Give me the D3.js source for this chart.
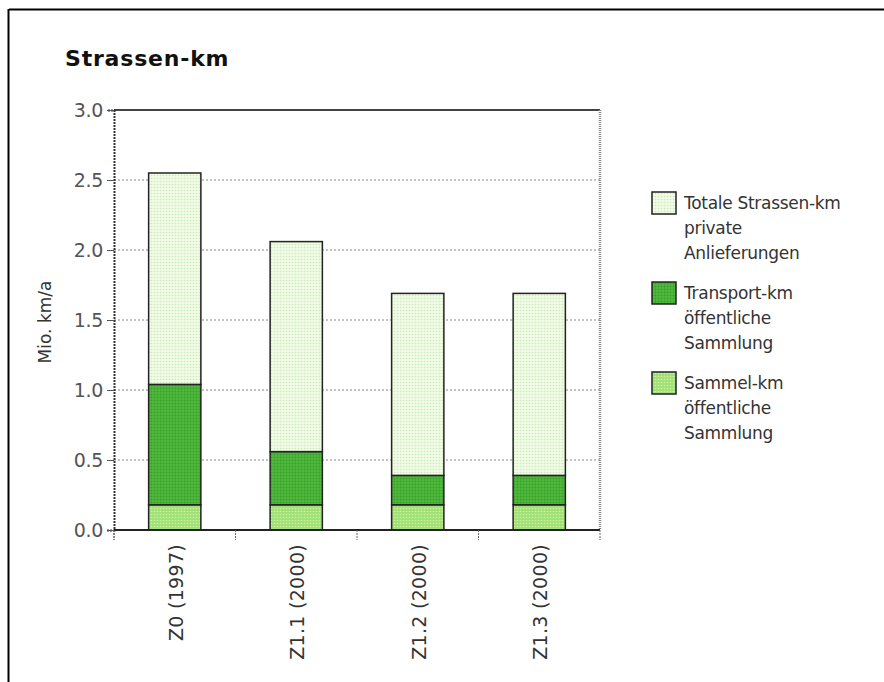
<!DOCTYPE html>
<html><head><meta charset="utf-8">
<script src="https://cdn.jsdelivr.net/npm/d3@7/dist/d3.min.js"></script>
<style>body{margin:0;background:#fff}svg{display:block}</style>
</head><body>
<svg id="c" width="884" height="682"></svg>
<script>
const categories = ["Z0 (1997)", "Z1.1 (2000)", "Z1.2 (2000)", "Z1.3 (2000)"];
const sammelKm = [0.18, 0.18, 0.18, 0.18];
const transportKm = [0.86, 0.38, 0.21, 0.21];
const privateKm = [1.51, 1.50, 1.30, 1.30];
const yTicks = [0, 0.5, 1.0, 1.5, 2.0, 2.5, 3.0];
const seriesNames = [
  ["Totale Strassen-km", "private", "Anlieferungen"],
  ["Transport-km", "öffentliche", "Sammlung"],
  ["Sammel-km", "öffentliche", "Sammlung"]
];

const svg = d3.select("#c");
const font = "'DejaVu Sans', Verdana, sans-serif";
const defs = svg.append("defs");

function pat(id, bg, dot, step, r) {
  const p = defs.append("pattern").attr("id", id).attr("patternUnits", "userSpaceOnUse")
    .attr("width", step).attr("height", step);
  p.append("rect").attr("width", step).attr("height", step).attr("fill", bg);
  p.append("circle").attr("cx", step/2).attr("cy", step/2).attr("r", r).attr("fill", dot);
}
pat("pPriv", "#f2fbe6", "#c8ecb8", 3, 0.8);
pat("pTrans", "#4fba3c", "#3a9a2c", 3, 0.9);
pat("pSamm", "#9ee07c", "#d8f58c", 3, 0.8);
const fills = ["url(#pPriv)", "url(#pTrans)", "url(#pSamm)"];

// frame
svg.append("line").attr("x1", 9).attr("x2", 884).attr("y1", 9.5).attr("y2", 9.5).attr("stroke", "#000").attr("stroke-width", 2);
svg.append("line").attr("x1", 8.5).attr("x2", 8.5).attr("y1", 9).attr("y2", 682).attr("stroke", "#000").attr("stroke-width", 2);

svg.append("text").attr("x", 65).attr("y", 66).text("Strassen-km")
  .attr("font-family", font).attr("font-weight", "bold").attr("font-size", 22).attr("fill", "#111")
  .attr("letter-spacing", 0.8);

const L = 114, R = 600, T = 110, B = 530;
const x = d3.scaleBand().domain(categories).range([L, R]).paddingInner(0.57).paddingOuter(0.285);
const y = d3.scaleLinear().domain([0, 3]).range([B, T]);

// grid
svg.append("g").selectAll("line").data(yTicks.filter(t => t > 0 && t < 3)).join("line")
  .attr("x1", L).attr("x2", R).attr("y1", d => y(d)).attr("y2", d => y(d))
  .attr("stroke", "#888").attr("stroke-dasharray", "2,2").attr("stroke-width", 1);

// top and right border
svg.append("line").attr("x1", L).attr("x2", R).attr("y1", y(3)).attr("y2", y(3)).attr("stroke", "#444").attr("stroke-width", 2);
svg.append("line").attr("x1", R).attr("x2", R).attr("y1", T).attr("y2", B).attr("stroke", "#888").attr("stroke-width", 2.5).attr("stroke-dasharray", "1,1");

// bars
const stackData = categories.map((c, i) => ({cat: c, s: sammelKm[i], t: transportKm[i], p: privateKm[i]}));
const stack = d3.stack().keys(["s", "t", "p"])(stackData);
const keyFill = {s: fills[2], t: fills[1], p: fills[0]};
stack.forEach(layer => {
  svg.append("g").selectAll("rect").data(layer).join("rect")
    .attr("x", d => x(d.data.cat)).attr("width", x.bandwidth())
    .attr("y", d => y(d[1])).attr("height", d => y(d[0]) - y(d[1]))
    .attr("fill", keyFill[layer.key]).attr("stroke", "#222").attr("stroke-width", 1.5);
});

// y axis
const yAxis = d3.axisLeft(y).tickValues(yTicks).tickFormat(d3.format(".1f")).tickSize(7).tickPadding(4);
const ya = svg.append("g").attr("transform", `translate(${L},0)`).call(yAxis);
ya.select(".domain").attr("stroke", "#333").attr("stroke-width", 2).attr("stroke-dasharray", "2,1");
ya.selectAll(".tick line").attr("stroke", "#555");
ya.selectAll("text").attr("font-family", font).attr("font-size", 19).attr("fill", "#555").attr("letter-spacing", -0.3);
svg.append("line").attr("x1", L).attr("x2", L).attr("y1", B).attr("y2", B + 10).attr("stroke", "#555").attr("stroke-dasharray", "2,1");

// x axis
svg.append("line").attr("x1", L).attr("x2", R).attr("y1", B).attr("y2", B).attr("stroke", "#222").attr("stroke-width", 2);
const bounds = [L].concat(categories.map(c => x(c) + x.bandwidth() + x.step()*x.paddingInner()/2));
svg.append("g").selectAll("line").data(bounds).join("line")
  .attr("x1", d => d).attr("x2", d => d).attr("y1", B).attr("y2", B + 10)
  .attr("stroke", "#666").attr("stroke-dasharray", "2,1");

const clip = defs.append("clipPath").attr("id", "clipB");
clip.append("rect").attr("x", 0).attr("y", 0).attr("width", 884).attr("height", 661);
svg.append("g").attr("clip-path", "url(#clipB)").selectAll("text").data(categories).join("text")
  .attr("transform", d => `translate(${x(d) + x.bandwidth()/2 + 8},544) rotate(-90)`)
  .attr("text-anchor", "end").text(d => d)
  .attr("font-family", font).attr("font-size", 19).attr("fill", "#333").attr("letter-spacing", 0.3);

// y label
svg.append("text").attr("transform", "translate(51,322) rotate(-90)").attr("text-anchor", "middle")
  .text("Mio. km/a").attr("font-family", font).attr("font-size", 17).attr("fill", "#333");

// legend
const lg = svg.append("g");
seriesNames.forEach((lines, i) => {
  const y0 = 192 + i * 90;
  lg.append("rect").attr("x", 652).attr("y", y0).attr("width", 24).attr("height", 22)
    .attr("fill", fills[i]).attr("stroke", "#222").attr("stroke-width", 1.5);
  lines.forEach((t, j) => {
    lg.append("text").attr("x", 684).attr("y", y0 + 17 + j * 25).text(t)
      .attr("font-family", font).attr("font-size", 17).attr("fill", "#333").attr("letter-spacing", -0.3);
  });
});
</script>
</body></html>
